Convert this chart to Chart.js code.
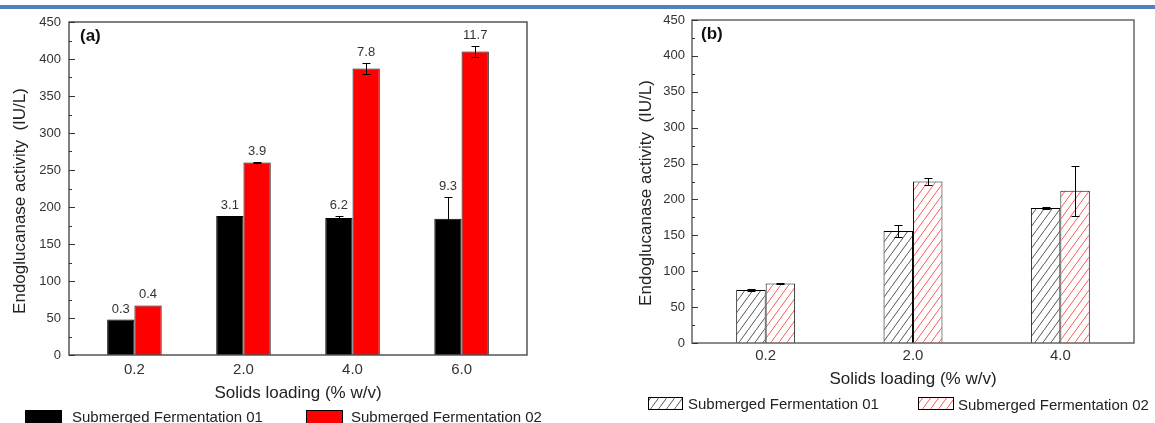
<!DOCTYPE html>
<html>
<head>
<meta charset="utf-8">
<script src="https://cdn.jsdelivr.net/npm/chart.js@4"></script>
<style>
html, body { margin: 0; padding: 0; background: #fff; overflow: hidden; }
#topline { position: absolute; left: 0; top: 5px; width: 1155px; height: 4px; background: #4f81bd; }
.panel { position: absolute; top: 0; height: 423px; }
</style>
</head>
<body>
<div id="topline"></div>
<div class="panel" style="left:0;width:580px"><canvas id="chartA" width="580" height="423"></canvas></div>
<div class="panel" style="left:580px;width:575px"><canvas id="chartB" width="575" height="423"></canvas></div>
<script>
// panel (a)
const loadingA = ['0.2', '2.0', '4.0', '6.0'];
const fermA01 = [48, 188, 185, 184];
const fermA02 = [67, 260, 387, 410];
const errA01 = [0, 0, 3, 29];
const errA02 = [0, 1, 7.5, 7.5];
const noteA01 = ['0.3', '3.1', '6.2', '9.3'];
const noteA02 = ['0.4', '3.9', '7.8', '11.7'];

// panel (b)
const loadingB = ['0.2', '2.0', '4.0'];
const fermB01 = [74, 156, 188];
const fermB02 = [83, 225, 212];
const errB01 = [1, 8, 1];
const errB02 = [1, 5.5, 35];

const seriesNames = ['Submerged Fermentation 01', 'Submerged Fermentation 02'];
const yTitle = 'Endoglucanase activity  (IU/L)';
const xTitle = 'Solids loading (% w/v)';

const FONT = '"Liberation Sans", Arial, sans-serif';
Chart.defaults.font.family = FONT;
Chart.defaults.color = '#333';

function hatch(color) {
    const c = document.createElement('canvas');
    c.width = 8; c.height = 11;
    const g = c.getContext('2d');
    g.fillStyle = '#fff';
    g.fillRect(0, 0, 8, 11);
    g.strokeStyle = color;
    g.lineWidth = 1;
    g.beginPath();
    g.moveTo(-1, 12.4); g.lineTo(9, -1.4);
    g.stroke();
    return g.createPattern(c, 'repeat');
}

function points(vals) {
    return vals.map((v, i) => ({ x: i, y: v }));
}

function decor(cfg) {
    return {
        id: 'decor',
        afterDatasetsDraw(chart) {
            const ctx = chart.ctx;
            const a = chart.chartArea;
            const ys = chart.scales.y;
            ctx.save();

            // error bars
            ctx.strokeStyle = '#000';
            ctx.lineWidth = 1;
            const tops = [];
            cfg.errs.forEach((errs, d) => {
                const meta = chart.getDatasetMeta(d);
                const vals = chart.data.datasets[d].data;
                tops[d] = [];
                meta.data.forEach((bar, i) => {
                    const v = vals[i].y, e = errs[i];
                    tops[d][i] = ys.getPixelForValue(v + e);
                    if (!e) return;
                    const x = Math.round(bar.x) + 0.5;
                    const y1 = Math.round(ys.getPixelForValue(v + e)) + 0.5;
                    const y2 = Math.round(ys.getPixelForValue(v - e)) + 0.5;
                    ctx.beginPath();
                    ctx.moveTo(x, y1); ctx.lineTo(x, y2);
                    ctx.moveTo(x - 4, y1); ctx.lineTo(x + 4, y1);
                    ctx.moveTo(x - 4, y2); ctx.lineTo(x + 4, y2);
                    ctx.stroke();
                });
            });

            // numbers above bars
            if (cfg.notes) {
                ctx.fillStyle = '#333';
                ctx.font = '13px ' + FONT;
                ctx.textAlign = 'center';
                ctx.textBaseline = 'bottom';
                cfg.notes.forEach((notes, d) => {
                    chart.getDatasetMeta(d).data.forEach((bar, i) => {
                        ctx.fillText(notes[i], bar.x, tops[d][i] - 4);
                    });
                });
            }

            // frame
            ctx.strokeStyle = cfg.frame;
            ctx.lineWidth = 1.5;
            ctx.strokeRect(a.left, a.top, a.right - a.left, a.bottom - a.top);

            // inward ticks on the left axis
            ctx.lineWidth = 1;
            ctx.strokeStyle = '#333';
            for (let v = 0; v <= 450; v += 25) {
                const py = Math.round(ys.getPixelForValue(v)) + 0.5;
                ctx.beginPath();
                ctx.moveTo(a.left, py);
                ctx.lineTo(a.left + (v % 50 === 0 ? 6 : 3), py);
                ctx.stroke();
            }

            // panel tag
            ctx.fillStyle = '#111';
            ctx.font = 'bold 17px ' + FONT;
            ctx.textAlign = 'left';
            ctx.textBaseline = 'middle';
            ctx.fillText(cfg.tag, cfg.tagX, cfg.tagY);

            // y axis title
            ctx.save();
            ctx.translate(cfg.titleX, cfg.titleY);
            ctx.rotate(-Math.PI / 2);
            ctx.font = '17px ' + FONT;
            ctx.textAlign = 'center';
            ctx.textBaseline = 'middle';
            ctx.fillStyle = '#222';
            ctx.fillText(yTitle, 0, 0);
            ctx.restore();

            // legend
            ctx.font = '15px ' + FONT;
            ctx.textAlign = 'left';
            ctx.textBaseline = 'alphabetic';
            cfg.legend.forEach((it, d) => {
                const ds = chart.data.datasets[d];
                ctx.fillStyle = ds.backgroundColor;
                ctx.fillRect(it.x, it.y, it.w, it.h);
                ctx.strokeStyle = '#000';
                ctx.lineWidth = 1;
                ctx.strokeRect(it.x + 0.5, it.y + 0.5, it.w - 1, it.h - 1);
                ctx.fillStyle = '#222';
                ctx.fillText(ds.label, it.tx, it.base);
            });

            ctx.restore();
        }
    };
}

function makeChart(id, cats, d1, d2, c1, c2, catPct, xmin, xmax, sizes, cfg) {
    return new Chart(document.getElementById(id), {
        type: 'bar',
        data: {
            datasets: [
                { label: seriesNames[0], data: points(d1), backgroundColor: c1, borderColor: '#000', borderWidth: 1 },
                { label: seriesNames[1], data: points(d2), backgroundColor: c2, borderColor: '#111', borderWidth: 1 }
            ]
        },
        options: {
            responsive: false,
            animation: false,
            barPercentage: 1,
            categoryPercentage: catPct,
            layout: { padding: { left: 0, top: sizes.top, right: sizes.right, bottom: 0 } },
            plugins: { legend: { display: false }, tooltip: { enabled: false } },
            scales: {
                x: {
                    type: 'linear',
                    min: xmin,
                    max: xmax,
                    offset: false,
                    bounds: 'data',
                    afterBuildTicks: axis => { axis.ticks = cats.map((c, i) => ({ value: i })); },
                    afterFit: axis => { axis.height = sizes.xh; },
                    ticks: {
                        callback: v => cats[v],
                        font: { size: 15 },
                        color: '#333',
                        padding: sizes.xpad,
                        maxRotation: 0
                    },
                    grid: { display: false, drawTicks: false },
                    border: { display: false },
                    title: {
                        display: true,
                        text: xTitle,
                        color: '#222',
                        font: { size: 17 },
                        padding: { top: 0, bottom: sizes.xtitle }
                    }
                },
                y: {
                    min: 0,
                    max: 450,
                    afterFit: axis => { axis.width = sizes.yw; },
                    ticks: { stepSize: 50, font: { size: 13 }, color: '#333', padding: sizes.ypad },
                    grid: { display: false, drawTicks: false },
                    border: { display: false }
                }
            }
        },
        plugins: [decor(cfg)]
    });
}

makeChart('chartA', loadingA, fermA01, fermA02, '#000000', '#ff0000', 0.5, -0.6, 3.6,
    { top: 22, right: 53, xh: 68, xpad: 6, xtitle: 19, yw: 69, ypad: 8 },
    {
        errs: [errA01, errA02], notes: [noteA01, noteA02], frame: '#555',
        tag: '(a)', tagX: 80, tagY: 36, titleX: 20, titleY: 201,
        legend: [
            { x: 25, y: 410, w: 37, h: 15, tx: 72, base: 422 },
            { x: 306, y: 410, w: 37, h: 15, tx: 351, base: 422 }
        ]
    });

makeChart('chartB', loadingB, fermB01, fermB02, hatch('#555'), hatch('#ff5a5a'), 0.4, -0.5, 2.5,
    { top: 20, right: 21, xh: 80, xpad: 4, xtitle: 33, yw: 112, ypad: 7 },
    {
        errs: [errB01, errB02], notes: null, frame: '#666',
        tag: '(b)', tagX: 121, tagY: 34, titleX: 66, titleY: 193,
        legend: [
            { x: 68, y: 397, w: 35, h: 13, tx: 108, base: 409 },
            { x: 338, y: 397, w: 36, h: 13, tx: 378, base: 410 }
        ]
    });
</script>
</body>
</html>
